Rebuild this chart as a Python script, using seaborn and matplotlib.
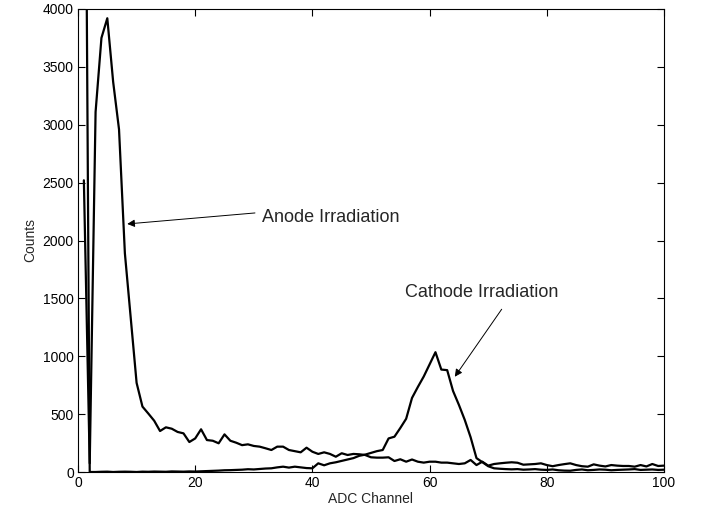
import numpy as np
import pandas as pd
import matplotlib
matplotlib.use("Agg")
import matplotlib.pyplot as plt
import seaborn as sns

# ADC channels
anode_channels = list(range(1, 101))
anode_counts = [2520, 75, 3110, 3750, 3920, 3370, 2960, 1890, 1330, 770,
                565, 505, 443, 354, 386, 374, 346, 334, 259, 290,
                369, 276, 270, 248, 325, 270, 253, 232, 239, 225,
                219, 205, 190, 219, 219, 190, 180, 170, 210, 175,
                156, 170, 156, 132, 162, 147, 156, 153, 147, 127,
                124, 124, 127, 95, 110, 89, 108, 89, 81, 89,
                89, 81, 81, 75, 69, 75, 104, 60, 89, 55,
                69, 75, 80, 84, 80, 63, 66, 69, 75, 60,
                50, 60, 68, 75, 60, 50, 46, 66, 55, 48,
                60, 55, 52, 52, 46, 60, 48, 69, 52, 55]

cathode_channels = list(range(1, 101))
cathode_counts = [8000, 0, 0, 2, 3, 0, 2, 3, 2, 0,
                  3, 2, 4, 3, 2, 5, 4, 3, 5, 4,
                  6, 8, 10, 12, 15, 16, 18, 20, 24, 22,
                  26, 30, 32, 40, 46, 38, 46, 40, 34, 32,
                  75, 58, 75, 84, 96, 108, 120, 140, 150, 165,
                  180, 190, 290, 305, 380, 460, 640, 735, 825, 930,
                  1035, 885, 880, 700, 580, 450, 300, 120, 85, 50,
                  32, 28, 25, 23, 25, 20, 22, 25, 20, 18,
                  22, 15, 12, 11, 18, 22, 15, 18, 22, 20,
                  15, 18, 20, 22, 25, 18, 20, 22, 18, 20]

x_ticks = [0, 20, 40, 60, 80, 100]
y_ticks = [0, 500, 1000, 1500, 2000, 2500, 3000, 3500, 4000]

sns.set_theme(style="white")
plt.rcParams['font.family'] = ['Liberation Sans', 'DejaVu Sans']

df = pd.concat([
    pd.DataFrame({"ADC Channel": anode_channels, "Counts": anode_counts, "run": "Anode"}),
    pd.DataFrame({"ADC Channel": cathode_channels, "Counts": cathode_counts, "run": "Cathode"}),
])

fig = plt.figure(figsize=(7.05, 5.18), dpi=100)
ax = fig.add_axes([78/705, (518-472)/518, (664-78)/705, (472-9)/518])

sns.lineplot(data=df, x="ADC Channel", y="Counts", units="run", estimator=None,
             color="black", linewidth=1.6, ax=ax, legend=False)

ax.set_xlim(0, 100)
ax.set_ylim(0, 4000)
ax.set_xticks(x_ticks)
ax.set_yticks(y_ticks)
ax.set_xticklabels([str(t) for t in x_ticks], fontsize=10)
ax.set_yticklabels([str(t) for t in y_ticks], fontsize=10)
ax.tick_params(direction="in", length=5, width=0.8, top=True, right=True,
               bottom=True, left=True, colors="black", pad=3)
for s in ax.spines.values():
    s.set_color("black")
    s.set_linewidth(0.8)
ax.set_xlabel("ADC Channel", fontsize=10, labelpad=1)
ax.set_ylabel("Counts", fontsize=10, labelpad=4)
ax.grid(False)

arrow = dict(arrowstyle="-|>", color="black", lw=0.7, mutation_scale=11,
             shrinkA=0, shrinkB=0)
ax.annotate("", xy=(8.4, 2143), xytext=(30.2, 2238), arrowprops=arrow)
ax.text(31.4, 2203, "Anode Irradiation", fontsize=13, va="center", ha="left")
ax.annotate("", xy=(64.3, 823), xytext=(72.3, 1406), arrowprops=arrow)
ax.text(55.8, 1555, "Cathode Irradiation", fontsize=13, va="center", ha="left")

fig.savefig("out.png", dpi=100, facecolor="white")
